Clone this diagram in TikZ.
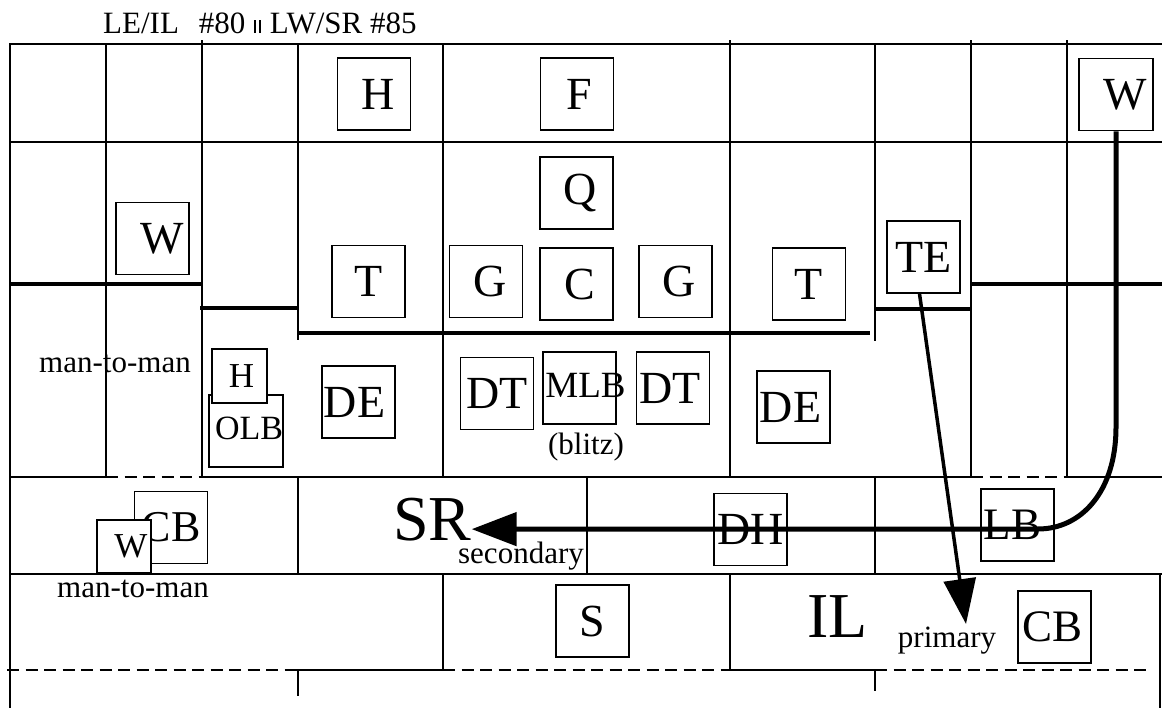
\documentclass[tikz,border=0pt]{standalone}
\usepackage{fontspec}
\setmainfont{Liberation Serif}
\usetikzlibrary{arrows.meta}

\begin{document}
\begin{tikzpicture}[x=1pt,y=-1pt,
  gridline/.style={line width=1.7pt, line cap=rect},
  zoneline/.style={line width=4pt},
  dashline/.style={line width=1.7pt, dash pattern=on 12pt off 6.5pt},
  player/.style={draw, line width=1.6pt, fill=white, inner sep=0pt,
    minimum width=73pt, minimum height=72pt,
    font=\fontsize{46}{46}\selectfont,
    execute at begin node={\hbox to 0pt\bgroup\hss},
    execute at end node={\hss\egroup}},
  smallplayer/.style={player, minimum width=55pt, minimum height=54pt,
    font=\fontsize{35}{35}\selectfont},
  note/.style={inner sep=0pt, font=\fontsize{31}{31}\selectfont},
  zone/.style={inner sep=0pt, font=\fontsize{64}{64}\selectfont},
  route/.style={line width=5pt, -{Triangle[length=45pt,width=33pt]}},
  pass/.style={line width=3.5pt, -{Triangle[length=45pt,width=32pt]}},
]
\useasboundingbox (0,0) rectangle (1162,707);
\fill[white] (0,0) rectangle (1162,707);

% heading
\node[anchor=base west, inner sep=0pt, font=\fontsize{31}{31}\selectfont] (title) at (103,33)
  {LE/IL\hspace{20pt}\#80\hspace{9pt}\rule{2pt}{13pt}\kern2.5pt\rule{2pt}{13pt}\hspace{9pt}LW/SR \#85};

% ---- field grid: horizontal lines
\draw[gridline] (10,44) -- (1162,44);
\draw[gridline] (10,142) -- (1162,142);
\draw[gridline] (10,477) -- (106,477);
\draw[dashline] (106,477) -- (202,477);
\draw[gridline] (202,477) -- (971,477);
\draw[dashline] (971,477) -- (1067,477);
\draw[gridline] (1067,477) -- (1162,477);
\draw[gridline] (10,574) -- (1162,574);
\draw[dashline] (7,670) -- (298,670);
\draw[gridline] (298,670) -- (443,670);
\draw[dashline] (443,670) -- (730,670);
\draw[gridline] (730,670) -- (875,670);
\draw[dashline] (875,670) -- (1150,670);

% ---- field grid: vertical lines
\draw[gridline] (10,44) -- (10,707);
\draw[gridline] (106,44) -- (106,477);
\draw[gridline] (202,41) -- (202,477);
\draw[gridline] (298,44) -- (298,339);
\draw[gridline] (298,477) -- (298,574);
\draw[gridline] (298,670) -- (298,695);
\draw[gridline] (443,44) -- (443,477);
\draw[gridline] (443,574) -- (443,670);
\draw[gridline] (587,477) -- (587,574);
\draw[gridline] (730,41) -- (730,477);
\draw[gridline] (730,574) -- (730,670);
\draw[gridline] (875,44) -- (875,340);
\draw[gridline] (875,477) -- (875,574);
\draw[gridline] (875,670) -- (875,690);
\draw[gridline] (971,41) -- (971,477);
\draw[gridline] (1067,41) -- (1067,477);
\draw[gridline] (1160,574) -- (1160,707);

% ---- line of scrimmage
\draw[zoneline] (10,284) -- (202,284);
\draw[zoneline] (200,308) -- (298,308);
\draw[zoneline] (298,333) -- (870,333);
\draw[zoneline] (875,309) -- (971,309);
\draw[zoneline] (971,284) -- (1162,284);

% ---- offense
\node[player] (H)  at (374,94)    {\kern8pt H};
\node[player] (F)  at (577,94)    {\kern4pt F};
\node[player, minimum width=74pt] (Wtop) at (1116,94.5) {\kern18pt W};
\node[player] (Q)  at (576.5,193) {\kern8pt Q};
\node[player] (T1) at (368.5,281.5) {T};
\node[player] (G1) at (486,281.5) {\kern8pt G};
\node[player] (C)  at (576.5,284) {\kern6pt C};
\node[player] (G2) at (675.5,281.5) {\kern8pt G};
\node[player] (T2) at (809,284)   {T};
\node[player] (Wleft) at (152.5,238.5) {\kern20pt W};
\node[player] (TE) at (923.5,257) {TE};

% ---- defense
\node[player, minimum width=74pt, font=\fontsize{34}{34}\selectfont] (OLB) at (246,431) {\kern6pt\raisebox{6pt}{OLB}};
\node[smallplayer] (Hs) at (239.5,376) {\kern4pt H};
\node[player] (DE1) at (358.5,402) {\kern-8pt DE};
\node[player] (DT1) at (497,393.5) {DT};
\node[player, font=\fontsize{37}{37}\selectfont] (MLB) at (579.5,388) {\kern12pt\raisebox{5pt}{MLB}};
\node[player] (DT2) at (673,388)   {\kern-6pt DT};
\node[player] (DE2) at (793.5,407) {\kern-6pt DE};
\node[player] (DH)  at (750.5,529.5) {DH};
\node[player, font=\fontsize{44}{44}\selectfont] (CB1) at (171,527.5) {CB};
\node[smallplayer, minimum width=54pt, minimum height=53pt] (Ws) at (124,546.5) {\kern14pt W};
\node[player, font=\fontsize{45}{45}\selectfont] (LB)  at (1017.5,525) {\kern-10pt LB};
\node[player] (S)   at (592.5,621) {S};
\node[player, font=\fontsize{45}{45}\selectfont] (CB2) at (1054.5,627) {\kern-4pt CB};

% ---- labels
\node[note, anchor=base] (m1) at (115,372) {man-to-man};
\node[note, anchor=base] (m2) at (133,597) {man-to-man};
\node[note, anchor=base] (blitz) at (586,454) {(blitz)};
\node[note, anchor=base] (sec) at (521,563) {secondary};
\node[note, anchor=base] (prim) at (947,647) {primary};
\node[zone, anchor=base west] (SR) at (393,540) {SR};
\node[zone, anchor=base west] (IL) at (807,637) {IL};

% ---- routes
\coordinate (primtip) at (966,624);
\draw[route] (Wtop.south) -- (1116,427)
  .. controls (1116,492) and (1081,529) .. (1038,529)
  -- ([yshift=-10pt]SR.east);
\draw[pass] ([xshift=-4pt]TE.south) -- (primtip);
\end{tikzpicture}
\end{document}
